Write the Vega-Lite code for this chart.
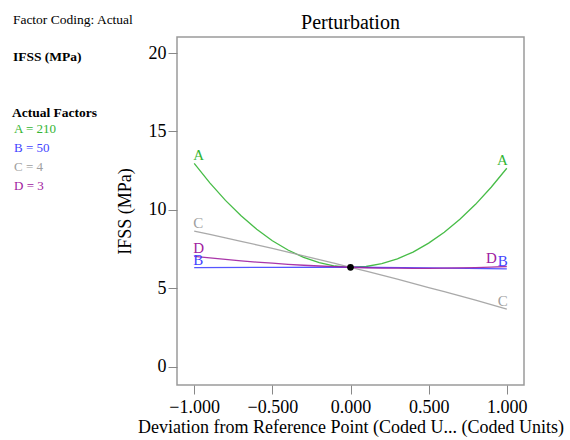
{
  "$schema": "https://vega.github.io/schema/vega-lite/v6.json",
  "autosize": {"type": "none"},
  "width": 347,
  "height": 348,
  "padding": {"left": 177, "top": 37, "right": 46, "bottom": 55},
  "background": "white",
  "title": {"text": "Perturbation", "font": "Liberation Serif", "fontSize": 20, "fontWeight": "normal", "color": "black", "offset": -20},
  "config": {
    "view": {"stroke": "#9a9a9a", "strokeWidth": 1.5},
    "axis": {"labelFont": "Liberation Serif", "labelFontSize": 18, "labelColor": "black", "titleFont": "Liberation Serif", "titleFontSize": 18, "titleFontWeight": "normal", "titleColor": "black", "tickColor": "#888888", "tickSize": 9, "domain": false, "grid": false}
  },
  "data": {"values": [
    {"code": "A", "level": "A = 210", "x": -1.0, "y": 12.97},
    {"code": "A", "level": "A = 210", "x": -0.9, "y": 11.73},
    {"code": "A", "level": "A = 210", "x": -0.8, "y": 10.61},
    {"code": "A", "level": "A = 210", "x": -0.7, "y": 9.63},
    {"code": "A", "level": "A = 210", "x": -0.6, "y": 8.77},
    {"code": "A", "level": "A = 210", "x": -0.5, "y": 8.04},
    {"code": "A", "level": "A = 210", "x": -0.4, "y": 7.45},
    {"code": "A", "level": "A = 210", "x": -0.3, "y": 6.98},
    {"code": "A", "level": "A = 210", "x": -0.2, "y": 6.64},
    {"code": "A", "level": "A = 210", "x": -0.1, "y": 6.43},
    {"code": "A", "level": "A = 210", "x": 0.0, "y": 6.35},
    {"code": "A", "level": "A = 210", "x": 0.1, "y": 6.40},
    {"code": "A", "level": "A = 210", "x": 0.2, "y": 6.58},
    {"code": "A", "level": "A = 210", "x": 0.3, "y": 6.89},
    {"code": "A", "level": "A = 210", "x": 0.4, "y": 7.32},
    {"code": "A", "level": "A = 210", "x": 0.5, "y": 7.89},
    {"code": "A", "level": "A = 210", "x": 0.6, "y": 8.58},
    {"code": "A", "level": "A = 210", "x": 0.7, "y": 9.41},
    {"code": "A", "level": "A = 210", "x": 0.8, "y": 10.36},
    {"code": "A", "level": "A = 210", "x": 0.9, "y": 11.45},
    {"code": "A", "level": "A = 210", "x": 1.0, "y": 12.66},
    {"code": "B", "level": "B = 50", "x": -1.0, "y": 6.33},
    {"code": "B", "level": "B = 50", "x": -0.5, "y": 6.34},
    {"code": "B", "level": "B = 50", "x": 0.0, "y": 6.35},
    {"code": "B", "level": "B = 50", "x": 0.5, "y": 6.31},
    {"code": "B", "level": "B = 50", "x": 1.0, "y": 6.25},
    {"code": "C", "level": "C = 4", "x": -1.0, "y": 8.66},
    {"code": "C", "level": "C = 4", "x": -0.9, "y": 8.44},
    {"code": "C", "level": "C = 4", "x": -0.8, "y": 8.23},
    {"code": "C", "level": "C = 4", "x": -0.7, "y": 8.00},
    {"code": "C", "level": "C = 4", "x": -0.6, "y": 7.78},
    {"code": "C", "level": "C = 4", "x": -0.5, "y": 7.55},
    {"code": "C", "level": "C = 4", "x": -0.4, "y": 7.32},
    {"code": "C", "level": "C = 4", "x": -0.3, "y": 7.08},
    {"code": "C", "level": "C = 4", "x": -0.2, "y": 6.84},
    {"code": "C", "level": "C = 4", "x": -0.1, "y": 6.60},
    {"code": "C", "level": "C = 4", "x": 0.0, "y": 6.35},
    {"code": "C", "level": "C = 4", "x": 0.1, "y": 6.10},
    {"code": "C", "level": "C = 4", "x": 0.2, "y": 5.85},
    {"code": "C", "level": "C = 4", "x": 0.3, "y": 5.59},
    {"code": "C", "level": "C = 4", "x": 0.4, "y": 5.33},
    {"code": "C", "level": "C = 4", "x": 0.5, "y": 5.06},
    {"code": "C", "level": "C = 4", "x": 0.6, "y": 4.80},
    {"code": "C", "level": "C = 4", "x": 0.7, "y": 4.52},
    {"code": "C", "level": "C = 4", "x": 0.8, "y": 4.25},
    {"code": "C", "level": "C = 4", "x": 0.9, "y": 3.97},
    {"code": "C", "level": "C = 4", "x": 1.0, "y": 3.69},
    {"code": "D", "level": "D = 3", "x": -1.0, "y": 7.05},
    {"code": "D", "level": "D = 3", "x": -0.9, "y": 6.95},
    {"code": "D", "level": "D = 3", "x": -0.8, "y": 6.85},
    {"code": "D", "level": "D = 3", "x": -0.7, "y": 6.76},
    {"code": "D", "level": "D = 3", "x": -0.6, "y": 6.68},
    {"code": "D", "level": "D = 3", "x": -0.5, "y": 6.61},
    {"code": "D", "level": "D = 3", "x": -0.4, "y": 6.54},
    {"code": "D", "level": "D = 3", "x": -0.3, "y": 6.48},
    {"code": "D", "level": "D = 3", "x": -0.2, "y": 6.43},
    {"code": "D", "level": "D = 3", "x": -0.1, "y": 6.39},
    {"code": "D", "level": "D = 3", "x": 0.0, "y": 6.35},
    {"code": "D", "level": "D = 3", "x": 0.1, "y": 6.32},
    {"code": "D", "level": "D = 3", "x": 0.2, "y": 6.30},
    {"code": "D", "level": "D = 3", "x": 0.3, "y": 6.29},
    {"code": "D", "level": "D = 3", "x": 0.4, "y": 6.28},
    {"code": "D", "level": "D = 3", "x": 0.5, "y": 6.28},
    {"code": "D", "level": "D = 3", "x": 0.6, "y": 6.29},
    {"code": "D", "level": "D = 3", "x": 0.7, "y": 6.31},
    {"code": "D", "level": "D = 3", "x": 0.8, "y": 6.33},
    {"code": "D", "level": "D = 3", "x": 0.9, "y": 6.36},
    {"code": "D", "level": "D = 3", "x": 1.0, "y": 6.40}
  ]},
  "layer": [
    {"mark": {"type": "line", "strokeWidth": 1.3, "opacity": 0.9},
      "encoding": {
        "x": {"field": "x", "type": "quantitative", "scale": {"domain": [-1.11, 1.11], "nice": false, "zero": false},
          "axis": {"values": [-1, -0.5, 0, 0.5, 1], "format": ".3f", "title": "Deviation from Reference Point (Coded U... (Coded Units)", "labelPadding": 4, "titlePadding": 2}},
        "y": {"field": "y", "type": "quantitative", "scale": {"domain": [-1.15, 21.02], "nice": false, "zero": false},
          "axis": {"values": [0, 5, 10, 15, 20], "title": "IFSS (MPa)", "labelPadding": 2, "titlePadding": 14}},
        "color": {"field": "level", "type": "nominal",
          "scale": {"domain": ["A = 210", "B = 50", "C = 4", "D = 3"], "range": ["#33b533", "#4444ff", "#a0a0a0", "#a020a0"]},
          "legend": {"orient": "none", "legendX": -165, "legendY": 69, "title": "Actual Factors", "titleFont": "Liberation Serif", "titleFontSize": 13.5, "titleFontWeight": "bold", "titleColor": "black", "titlePadding": 3,
            "labelFont": "Liberation Serif", "labelFontSize": 13, "labelColor": {"expr": "scale('color', datum.value)"}, "labelOffset": -11,
            "symbolSize": 0, "symbolOpacity": 0, "symbolStrokeWidth": 0, "rowPadding": 5}}
      }},
    {"transform": [{"filter": "datum.x == -1"}],
      "mark": {"type": "text", "font": "Liberation Serif", "fontSize": 15, "align": "left", "baseline": "middle", "dy": -8, "dx": -1},
      "encoding": {"x": {"field": "x", "type": "quantitative"}, "y": {"field": "y", "type": "quantitative"}, "color": {"field": "level", "type": "nominal"}, "text": {"field": "code"}}},
    {"transform": [{"filter": "datum.x == 1 && datum.code != 'D'"}],
      "mark": {"type": "text", "font": "Liberation Serif", "fontSize": 15, "align": "right", "baseline": "middle", "dy": -8, "dx": 1},
      "encoding": {"x": {"field": "x", "type": "quantitative"}, "y": {"field": "y", "type": "quantitative"}, "color": {"field": "level", "type": "nominal"}, "text": {"field": "code"}}},
    {"transform": [{"filter": "datum.x == 1 && datum.code == 'D'"}],
      "mark": {"type": "text", "font": "Liberation Serif", "fontSize": 15, "align": "right", "baseline": "middle", "dy": -8, "dx": -10},
      "encoding": {"x": {"field": "x", "type": "quantitative"}, "y": {"field": "y", "type": "quantitative"}, "color": {"field": "level", "type": "nominal"}, "text": {"field": "code"}}},
    {"data": {"values": [{"x": 0, "y": 6.35}]},
      "mark": {"type": "point", "filled": true, "color": "black", "size": 45, "opacity": 1},
      "encoding": {"x": {"field": "x", "type": "quantitative"}, "y": {"field": "y", "type": "quantitative"}}},
    {"data": {"values": [{"t": "Factor Coding: Actual"}]},
      "mark": {"type": "text", "font": "Liberation Serif", "fontSize": 13.5, "align": "left", "baseline": "middle", "color": "black"},
      "encoding": {"x": {"datum": -2.16}, "y": {"datum": 22.1}, "text": {"field": "t"}}},
    {"data": {"values": [{"t": "IFSS (MPa)"}]},
      "mark": {"type": "text", "font": "Liberation Serif", "fontSize": 13.5, "fontWeight": "bold", "align": "left", "baseline": "middle", "color": "black"},
      "encoding": {"x": {"datum": -2.16}, "y": {"datum": 19.73}, "text": {"field": "t"}}}
  ]
}
